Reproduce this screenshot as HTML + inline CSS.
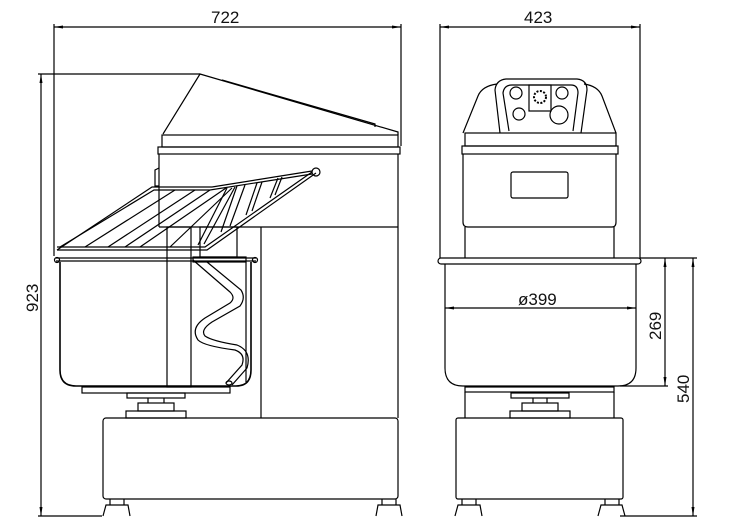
<!DOCTYPE html>
<html><head><meta charset="utf-8"><style>
html,body{margin:0;padding:0;background:#fff;}
svg{display:block;}
text{font-family:"Liberation Sans",sans-serif;font-size:17px;fill:#111;}
</style></head><body>
<svg width="732" height="528" viewBox="0 0 732 528" xmlns="http://www.w3.org/2000/svg">
<g fill="none" stroke="#000" stroke-width="1.2">
<line x1="54" y1="27" x2="401" y2="27"/>
<line x1="54" y1="24" x2="54" y2="256"/>
<line x1="401" y1="24" x2="401" y2="146"/>
<line x1="41" y1="74" x2="41" y2="516"/>
<line x1="38" y1="74" x2="200" y2="74"/>
<line x1="38" y1="516" x2="102" y2="516"/>
<polyline points="163,134 200,74 398,132 398,135"/>
<polyline points="222,80 375,124 375,127"/>
<rect x="162" y="135" width="236" height="12"/>
<rect x="158" y="147" width="242" height="7"/>
<line x1="159" y1="154" x2="159" y2="227"/>
<line x1="398" y1="154" x2="398" y2="418"/>
<line x1="159" y1="227" x2="398" y2="227"/>
<line x1="261" y1="227" x2="261" y2="418"/>
<path d="M159,168 L155,170 L155,186 L159,186"/>
<rect x="103" y="418" width="295" height="81" rx="3"/>
<path d="M103,516 L106,505 L128,505 L130,516"/>
<path d="M110,505 L110,499 M124,505 L124,499"/>
<path d="M376,516 L378,505 L400,505 L402,516"/>
<path d="M382,505 L382,499 M396,505 L396,499"/>
<rect x="82" y="387" width="148" height="6"/>
<rect x="127" y="393" width="58" height="5"/>
<rect x="138" y="403" width="36" height="8"/>
<rect x="126" y="411" width="60" height="7"/>
<line x1="148" y1="398" x2="148" y2="403"/><line x1="164" y1="398" x2="164" y2="403"/>
<path d="M60,262 L60,370 Q60,386 76,386 L236,386 Q251,386 251,370 L251,262" stroke-width="1.6"/>
<line x1="56" y1="258" x2="256" y2="258"/>
<line x1="56" y1="261" x2="256" y2="261"/>
<circle cx="57" cy="260" r="2.5"/><circle cx="255" cy="260" r="2.5"/>
<line x1="246" y1="262" x2="246" y2="382"/>
<rect x="167" y="227" width="24" height="160"/>
<rect x="200" y="227" width="37" height="30"/>
<rect x="193" y="257" width="53" height="5"/>
<path d="M193,260 L230,292 Q236,298 230,303 L205,318 Q190,328 198,340 Q204,346 235,350 Q246,354 242,365 L226,383"/>
<path d="M207,262 L241,290 Q246,298 240,306 L212,322 Q200,330 205,336 Q212,341 237,345 Q252,351 247,368 L232,385"/>
<ellipse cx="229" cy="383" rx="3" ry="2"/>
<polyline points="57,250 207,250 316,173"/>
<polyline points="57,247 205,247 312,172"/>
<polyline points="57,250 152,187 212,187 312,171"/>
<polyline points="60,247 154,190 210,190 312,174"/>
<circle cx="316" cy="172" r="4"/>
<line x1="85" y1="247" x2="175" y2="190"/>
<line x1="108" y1="247" x2="195" y2="190"/>
<line x1="125" y1="247" x2="210" y2="190"/>
<line x1="140" y1="247" x2="226" y2="188"/>
<line x1="170" y1="247" x2="232" y2="188"/>
<line x1="198" y1="245" x2="227" y2="188"/>
<line x1="204" y1="244" x2="235" y2="187"/>
<line x1="221" y1="232" x2="237" y2="186"/>
<line x1="230" y1="226" x2="245" y2="185"/>
<line x1="246" y1="215" x2="257" y2="183"/>
<line x1="252" y1="211" x2="262" y2="182"/>
<line x1="270" y1="198" x2="278" y2="178"/>
<line x1="275" y1="195" x2="282" y2="177"/>

<line x1="440" y1="27" x2="640" y2="27"/>
<line x1="440" y1="24" x2="440" y2="258"/>
<line x1="640" y1="24" x2="640" y2="258"/>
<path d="M463,133 L478,96 Q482,86 497,84"/>
<path d="M616,133 L602,96 Q598,86 584,84"/>
<path d="M500,133 L495,90 Q496,80 506,79 L577,79 Q587,80 587,90 L581,133"/>
<path d="M509,131 L503,93 Q504,85 512,85 L571,85 Q578,85 578,93 L573,131"/>
<circle cx="516" cy="93" r="6"/><circle cx="519" cy="114" r="6"/>
<circle cx="562" cy="93" r="6"/><circle cx="559" cy="115" r="9"/>
<rect x="529" y="85" width="22" height="26"/>
<circle cx="540" cy="97" r="6" stroke-width="2" stroke-dasharray="2,1.5"/>
<rect x="465" y="133" width="151" height="13"/>
<rect x="462" y="146" width="156" height="8"/>
<path d="M463,154 L463,222 Q463,227 468,227 L612,227 Q616,227 616,222 L616,154"/>
<rect x="511" y="172" width="57" height="26" rx="2"/>
<line x1="465" y1="227" x2="465" y2="258"/><line x1="614" y1="227" x2="614" y2="258"/>
<rect x="438" y="258" width="203" height="6" rx="3"/>
<path d="M445,264 L445,368 Q445,386 463,386 L618,386 Q636,386 636,368 L636,264"/>
<rect x="465" y="387" width="149" height="5"/>
<line x1="465" y1="392" x2="465" y2="418"/><line x1="614" y1="392" x2="614" y2="418"/>
<rect x="511" y="393" width="58" height="5"/>
<rect x="522" y="403" width="36" height="8"/>
<rect x="510" y="411" width="60" height="7"/>
<line x1="533" y1="398" x2="533" y2="403"/><line x1="547" y1="398" x2="547" y2="403"/>
<rect x="456" y="418" width="167" height="81" rx="2"/>
<path d="M455,516 L458,505 L480,505 L482,516"/>
<path d="M598,516 L601,505 L622,505 L625,516"/>
<line x1="462" y1="505" x2="462" y2="499"/><line x1="476" y1="505" x2="476" y2="499"/>
<line x1="605" y1="505" x2="605" y2="499"/><line x1="619" y1="505" x2="619" y2="499"/>
<line x1="445" y1="308" x2="636" y2="308"/>
<line x1="640" y1="258" x2="697" y2="258"/>
<line x1="620" y1="386" x2="668" y2="386"/>
<line x1="620" y1="516" x2="697" y2="516"/>
<line x1="665" y1="258" x2="665" y2="386"/>
<line x1="693" y1="258" x2="693" y2="516"/>
</g>
<g fill="#000">
<polygon points="54,27 63,25.5 63,28.5"/><polygon points="401,27 392,25.5 392,28.5"/>
<polygon points="440,27 449,25.5 449,28.5"/><polygon points="640,27 631,25.5 631,28.5"/>
<polygon points="41,74 39.5,83 42.5,83"/><polygon points="41,516 39.5,507 42.5,507"/>
<polygon points="445,308 454,306.5 454,309.5"/><polygon points="636,308 627,306.5 627,309.5"/>
<polygon points="665,258 663.5,267 666.5,267"/><polygon points="665,386 663.5,377 666.5,377"/>
<polygon points="693,258 691.5,267 694.5,267"/><polygon points="693,516 691.5,507 694.5,507"/>
</g>
<text x="211" y="23">722</text>
<text x="524" y="23">423</text>
<text x="518" y="305">ø399</text>
<text transform="translate(38,312) rotate(-90)">923</text>
<text transform="translate(661,340) rotate(-90)">269</text>
<text transform="translate(689,403) rotate(-90)">540</text>
</svg>
</body></html>
